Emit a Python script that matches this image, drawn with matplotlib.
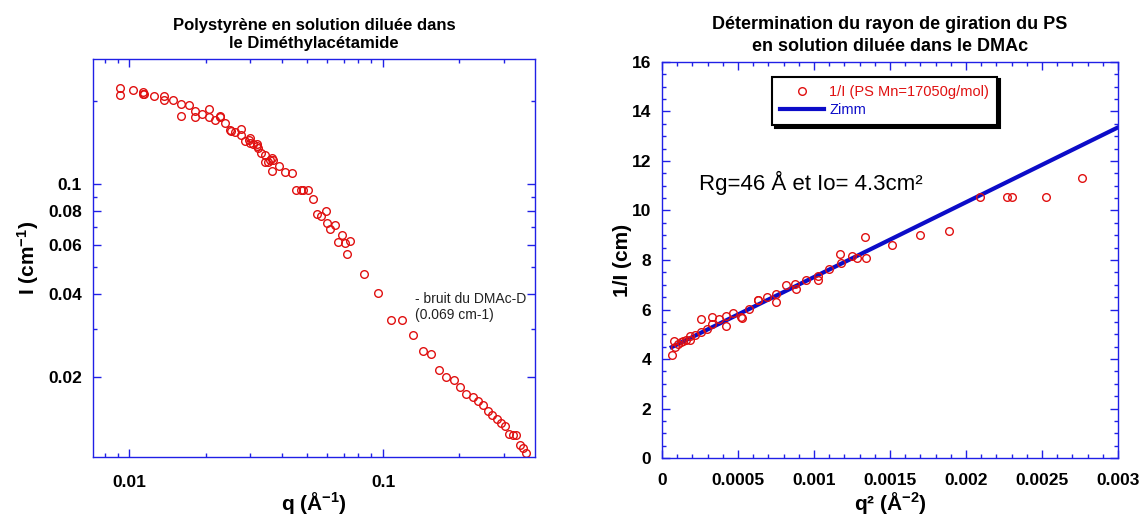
import matplotlib
matplotlib.use('Agg')
import matplotlib.pyplot as plt
from matplotlib.ticker import FixedLocator, FixedFormatter, LogLocator, NullFormatter, MultipleLocator, FuncFormatter

plt.rcParams['font.family'] = ['Liberation Sans', 'DejaVu Sans']
plt.rcParams['mathtext.fontset'] = 'custom'
plt.rcParams['mathtext.rm'] = 'Liberation Sans:bold'
plt.rcParams['mathtext.it'] = 'Liberation Sans:bold'
plt.rcParams['mathtext.bf'] = 'Liberation Sans:bold'

# left plot : I(q), log-log
q_left = [0.00916, 0.00916, 0.0103, 0.01138, 0.01138, 0.0114, 0.01254, 0.01369, 0.01369, 0.01484,
          0.0160, 0.0160, 0.01718, 0.01821, 0.01821, 0.01943, 0.02059, 0.02059, 0.02168, 0.02284,
          0.02284, 0.0239, 0.0250, 0.02517, 0.02617, 0.02747, 0.02747, 0.02847, 0.02979, 0.0296,
          0.02979, 0.03076, 0.03177, 0.03198, 0.03219, 0.03304, 0.03435, 0.03412, 0.03525, 0.03594,
          0.03664, 0.03688, 0.03664, 0.03897, 0.04118, 0.04364, 0.04537, 0.04764, 0.04842, 0.0505,
          0.05284, 0.05476, 0.05693, 0.05957, 0.05995, 0.06192, 0.06438, 0.0665, 0.06868, 0.07095,
          0.07377, 0.07188, 0.0839, 0.0956, 0.1077, 0.1191, 0.1313, 0.1433, 0.1549, 0.1668,
          0.1768, 0.1899, 0.2013, 0.2120, 0.2254, 0.2367, 0.2485, 0.2583, 0.2694, 0.2801,
          0.2921, 0.3027, 0.3137, 0.3240, 0.3347, 0.3457, 0.3570, 0.3664]
I_left = [0.2236, 0.2103, 0.2187, 0.2157, 0.2127, 0.2115, 0.2092, 0.2092, 0.2018, 0.2012,
          0.1957, 0.1771, 0.1935, 0.1841, 0.1756, 0.1791, 0.1877, 0.1746, 0.1708, 0.1766,
          0.1751, 0.1666, 0.1567, 0.1559, 0.1546, 0.1589, 0.1508, 0.1434, 0.1466, 0.1442,
          0.1414, 0.1395, 0.1395, 0.1376, 0.1357, 0.1302, 0.1276, 0.1207, 0.1207, 0.1221,
          0.1242, 0.1228, 0.1117, 0.1168, 0.1111, 0.1093, 0.0951, 0.0951, 0.0954, 0.0951,
          0.0883, 0.0779, 0.0764, 0.0801, 0.0721, 0.0686, 0.0713, 0.0617, 0.0656, 0.0610,
          0.0621, 0.0558, 0.0473, 0.0403, 0.0323, 0.0321, 0.0284, 0.0248, 0.0242, 0.0213,
          0.0200, 0.0196, 0.0184, 0.0174, 0.0170, 0.0164, 0.0158, 0.0151, 0.0146, 0.0141,
          0.0137, 0.0133, 0.0124, 0.0123, 0.0123, 0.01136, 0.01105, 0.01063]
ytick_vals = [0.02, 0.04, 0.06, 0.08, 0.1]
ytick_labels = ['0.02', '0.04', '0.06', '0.08', '0.1']
ytick_minor = [0.03, 0.05, 0.07, 0.09, 0.2]
xtick_vals = [0.01, 0.1]
xtick_labels = ['0.01', '0.1']

# right plot : Zimm plot
q2 = [6.4e-5, 8.1e-5, 8.8e-5, 1.03e-4, 1.25e-4, 1.36e-4, 1.58e-4, 1.84e-4, 1.87e-4, 2.19e-4,
      2.57e-4, 2.57e-4, 2.94e-4, 3.29e-4, 3.29e-4, 3.77e-4, 4.21e-4, 4.21e-4, 4.70e-4, 5.20e-4,
      5.24e-4, 5.75e-4, 6.30e-4, 6.32e-4, 6.89e-4, 7.50e-4, 7.50e-4, 8.16e-4, 8.78e-4, 8.82e-4,
      9.48e-4, 1.023e-3, 1.027e-3, 1.097e-3, 1.174e-3, 1.178e-3, 1.249e-3, 1.282e-3, 1.334e-3, 1.341e-3,
      1.510e-3, 1.694e-3, 1.885e-3, 2.089e-3, 2.271e-3, 2.302e-3, 2.528e-3, 2.763e-3]
inv_I = [4.18, 4.73, 4.50, 4.61, 4.67, 4.71, 4.77, 4.91, 4.77, 4.98,
         5.61, 5.11, 5.21, 5.68, 5.41, 5.61, 5.72, 5.32, 5.86, 5.69,
         5.65, 6.02, 6.40, 6.37, 6.51, 6.63, 6.29, 6.97, 7.05, 6.83,
         7.18, 7.34, 7.18, 7.65, 8.26, 7.86, 8.18, 8.10, 8.94, 8.09,
         8.60, 9.01, 9.16, 10.55, 10.54, 10.54, 10.54, 11.32]
zimm_q2 = [6.4e-5, 0.003]
zimm_invI = [4.48, 13.36]

axis_blue = '#2020e6'
red = '#e01010'
line_blue = '#0c0cc8'

fig = plt.figure(figsize=(11.43, 5.17), dpi=100)
ax1 = fig.add_axes([0.0814, 0.1161, 0.3867, 0.7698])
ax2 = fig.add_axes([0.5792, 0.1141, 0.3990, 0.7660])


def style_axes(ax):
    for s in ax.spines.values():
        s.set_color(axis_blue)
        s.set_linewidth(1.0)
    ax.tick_params(which='both', direction='in', top=True, right=True, color=axis_blue,
                   labelsize=12.5)
    ax.tick_params(which='major', length=5.5, width=1)
    ax.tick_params(which='minor', length=3, width=1)
    for lab in ax.get_xticklabels() + ax.get_yticklabels():
        lab.set_fontweight('bold')


# ---- left ----
ax1.plot(q_left, I_left, 'o', mfc='none', mec=red, ms=5.5, mew=1)
ax1.set_xscale('log')
ax1.set_yscale('log')
ax1.set_xlim(0.0072, 0.397)
ax1.set_ylim(0.01028, 0.284)
ax1.yaxis.set_major_locator(FixedLocator(ytick_vals))
ax1.yaxis.set_major_formatter(FixedFormatter(ytick_labels))
ax1.yaxis.set_minor_locator(FixedLocator(ytick_minor))
ax1.yaxis.set_minor_formatter(NullFormatter())
ax1.xaxis.set_major_locator(FixedLocator(xtick_vals))
ax1.xaxis.set_major_formatter(FixedFormatter(xtick_labels))
ax1.xaxis.set_minor_locator(LogLocator(base=10, subs=range(2, 10)))
ax1.xaxis.set_minor_formatter(NullFormatter())
style_axes(ax1)
ax1.tick_params(axis='x', which='major', pad=13)
ax1.tick_params(axis='y', which='major', pad=8)
ax1.set_title('Polystyrène en solution diluée dans\nle Diméthylacétamide',
              fontsize=12, fontweight='bold', pad=8)
ax1.set_xlabel('q (Å$^{-1}$)', fontsize=15, fontweight='bold', labelpad=0)
ax1.set_ylabel('I (cm$^{-1}$)', fontsize=15, fontweight='bold')
ax1.yaxis.set_label_coords(-0.117, 0.5)
ax1.text(0.134, 0.0359, '- bruit du DMAc-D\n(0.069 cm-1)', fontsize=10,
         ha='left', va='center', color='#222222')

# ---- right ----
ax2.plot(zimm_q2, zimm_invI, '-', color=line_blue, lw=3, label='Zimm', zorder=2)
ax2.plot(q2, inv_I, 'o', mfc='none', mec=red, ms=5.5, mew=1,
         label='1/I (PS Mn=17050g/mol)', zorder=3)
ax2.set_xlim(0, 0.003)
ax2.set_ylim(0, 16)
ax2.xaxis.set_major_locator(MultipleLocator(0.0005))
ax2.xaxis.set_minor_locator(MultipleLocator(0.0001))
ax2.xaxis.set_major_formatter(FuncFormatter(lambda v, p: '%g' % v))
ax2.yaxis.set_major_locator(MultipleLocator(2))
ax2.yaxis.set_minor_locator(MultipleLocator(0.5))
style_axes(ax2)
ax2.tick_params(axis='x', which='major', pad=11)
ax2.tick_params(axis='y', which='major', pad=8)
ax2.set_title('Détermination du rayon de giration du PS\nen solution diluée dans le DMAc',
              fontsize=13, fontweight='bold', pad=8, linespacing=1.4)
ax2.set_xlabel('q² (Å$^{-2}$)', fontsize=15, fontweight='bold', labelpad=1.5)
ax2.set_ylabel('1/I (cm)', fontsize=15, fontweight='bold')
ax2.yaxis.set_label_coords(-0.066, 0.5)
ax2.text(0.000243, 11.11, 'Rg=46 Å et Io= 4.3cm²', fontsize=16, ha='left', va='center')

handles, labels = ax2.get_legend_handles_labels()
leg = ax2.legend(handles[::-1], labels[::-1], loc='upper left', bbox_to_anchor=(0.242, 0.963),
                 fontsize=10.5, frameon=True, fancybox=False, framealpha=1,
                 edgecolor='black', handlelength=3.0, handletextpad=0.35,
                 borderpad=0.55, labelspacing=0.28, borderaxespad=0,
                 shadow={'facecolor': 'black', 'edgecolor': 'black', 'alpha': 1})
leg.get_frame().set_linewidth(1.5)
leg.get_texts()[0].set_color(red)
leg.get_texts()[1].set_color(line_blue)

fig.savefig('out.png', dpi=100)
